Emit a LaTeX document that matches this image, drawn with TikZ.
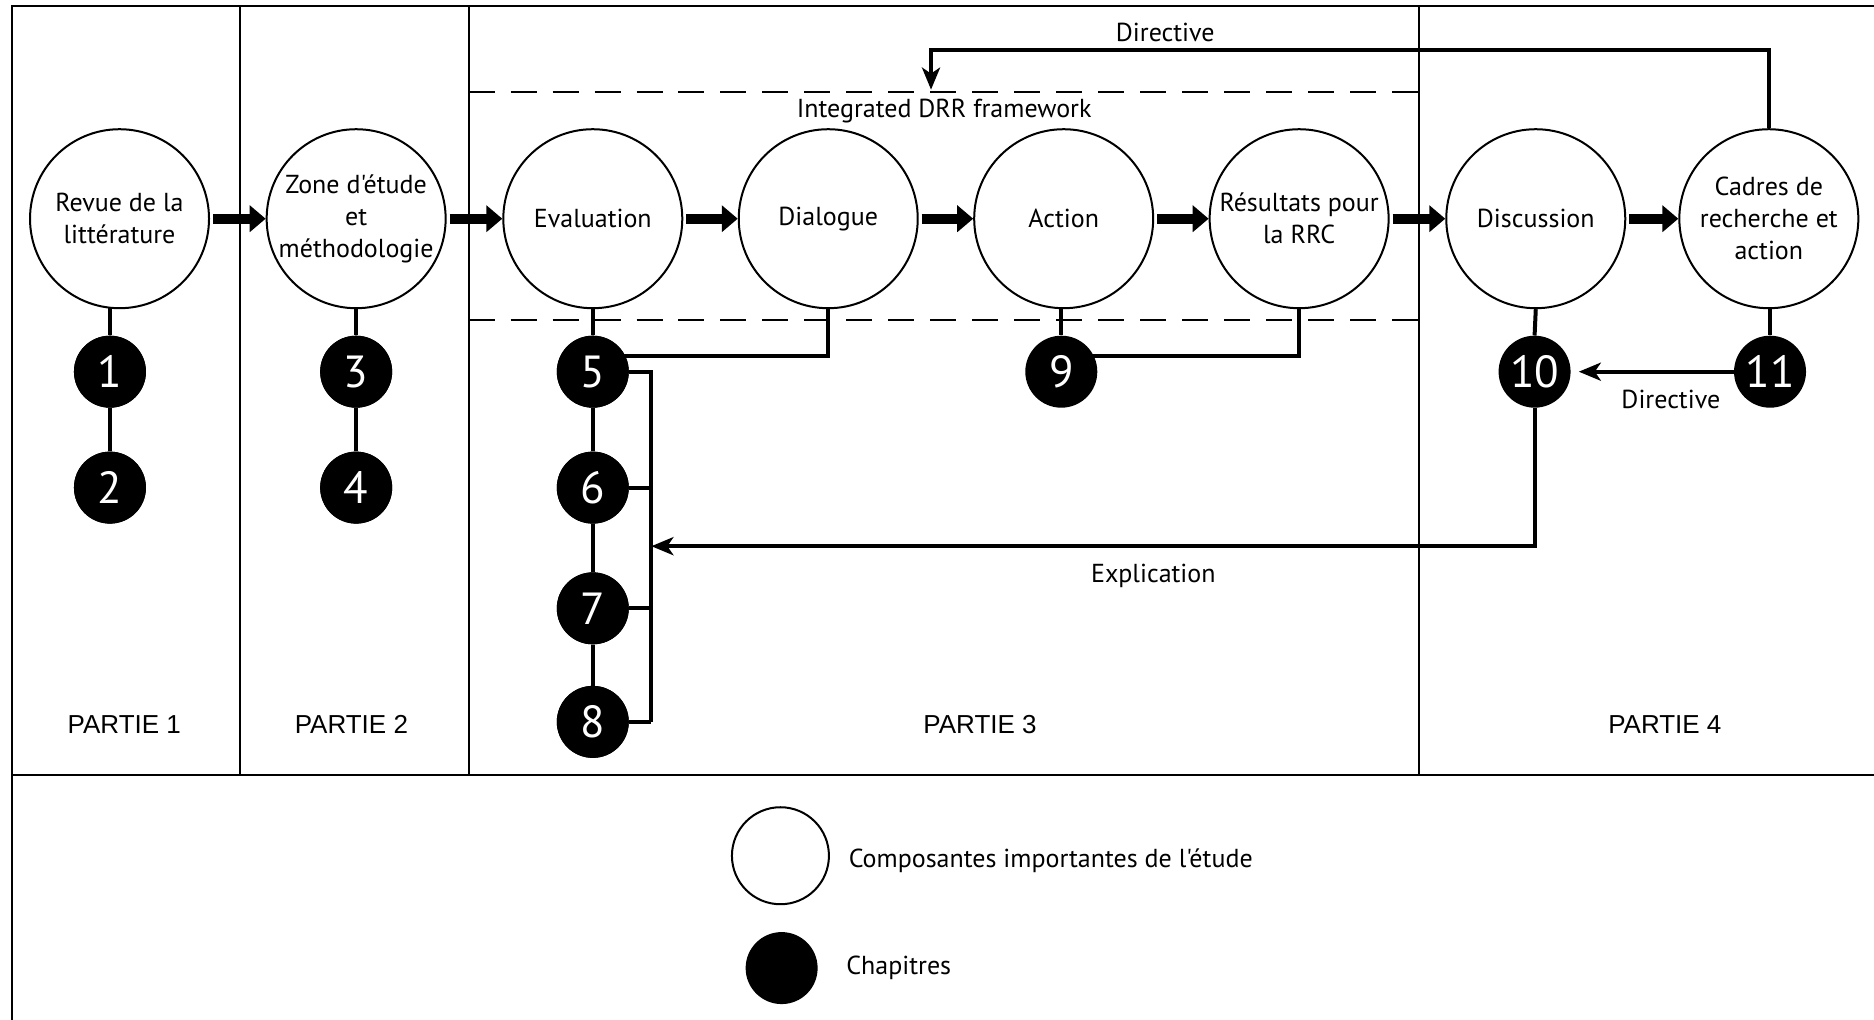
\documentclass[tikz,border=0pt]{standalone}
\usepackage{fontspec}
\newfontfamily\myfont{PT Sans}
\newfontfamily\arialfont{Liberation Sans}
\usetikzlibrary{arrows.meta,calc}
\begin{document}
\begin{tikzpicture}[x=1.1952pt,y=-1.1952pt,
  comp/.style={circle,draw,line width=2pt,minimum size=179pt,inner sep=0pt,align=center,font=\myfont\fontsize{26}{32}\selectfont,fill=white},
  chap/.style={circle,fill=black,minimum size=72pt,inner sep=0pt,text=white,font=\myfont\fontsize{45}{48}\selectfont},
  conn/.style={line width=4pt},
  fat/.style={line width=10pt,-{Triangle[length=16pt,width=26pt]}},
  thinarr/.style={line width=4pt,-{Stealth[length=22pt,width=18pt,inset=6pt]}},
  lbl/.style={font=\myfont\fontsize{26}{30}\selectfont,inner sep=0pt},
  part/.style={font=\arialfont\fontsize{26}{30}\selectfont,inner sep=0pt},
  frame/.style={line width=2pt},
  dashline/.style={line width=2pt,dash pattern=on 26pt off 16pt}]
\useasboundingbox (0,0) rectangle (1568,853);
\fill[white] (0,0) rectangle (1568,853);
% frame
\draw[frame] (10,860) -- (10,5) -- (1575,5);
\draw[frame] (10,648.5) -- (1575,648.5);
\draw[frame] (201,5) -- (201,648.5);
\draw[frame] (392,5) -- (392,648.5);
\draw[frame] (1187,5) -- (1187,648.5);
% dashed framework
\draw[dashline] (392,77) -- (1187,77);
\draw[dashline] (392,268) -- (1187,268);
\node[lbl] (drr) at (790,93) {Integrated DRR framework};
% components
\node[comp] (c1) at (100,183) {Revue de la\\littérature};
\node[comp] (c2) at (298,183) {Zone d'étude\\et\\méthodologie};
\node[comp] (c3) at (496,183) {Evaluation};
\node[comp] (c4) at (693,183) {\raisebox{-3pt}{Dialogue}};
\node[comp] (c5) at (890,183) {Action};
\node[comp] (c6) at (1087,183) {Résultats pour\\la RRC};
\node[comp] (c7) at (1285,183) {Discussion};
\node[comp] (c8) at (1480,183) {Cadres de\\recherche et\\action};
% chapters
\node[chap] (n1) at (92,311) {1};
\node[chap] (n2) at (92,408) {2};
\node[chap] (n3) at (298,311) {3};
\node[chap] (n4) at (298,408) {4};
\node[chap] (n5) at (496,311) {5};
\node[chap] (n6) at (496,408) {6};
\node[chap] (n7) at (496,509) {7};
\node[chap] (n8) at (496,604) {8};
\node[chap] (n9) at (888,311) {9};
\node[chap] (n10) at (1284,311) {10};
\node[chap] (n11) at (1481,311) {11};
% vertical links
\draw[conn] (n1 |- c1.south) ++(0,-2) -- (n1.north);
\draw[conn] (n1) -- (n2);
\draw[conn] (c2.south) -- (n3.north);
\draw[conn] (n3) -- (n4);
\draw[conn] (c3.south) -- (n5.north);
\draw[conn] (n5) -- (n6);
\draw[conn] (n6) -- (n7);
\draw[conn] (n7) -- (n8);
\draw[conn] (n9 |- c5.south) -- (n9.north);
\draw[conn] (c7.south) -- (n10.north);
\draw[conn] (n11 |- c8.south) -- (n11.north);
% redraw chapters over links
\node[chap] at (n1) {1};
\node[chap] at (n2) {2};
\node[chap] at (n3) {3};
\node[chap] at (n4) {4};
\node[chap] at (n5) {5};
\node[chap] at (n6) {6};
\node[chap] at (n7) {7};
\node[chap] at (n8) {8};
% dialogue -> 5, résultats -> 9
\coordinate (d5) at (518,298);
\draw[conn] (c4.south) -- (c4.south |- d5) -- (d5);
\coordinate (d9) at (910,298);
\draw[conn] (c6.south) -- (c6.south |- d9) -- (d9);
% bracket
\coordinate (bx) at (545,311);
\draw[conn] (n5.east) -- (bx) -- (bx |- n8);
\draw[conn] (n6.east) -- (bx |- n6);
\draw[conn] (n7.east) -- (bx |- n7);
\draw[conn] (n8.east) -- (bx |- n8);
% explication
\coordinate (ex) at (545,457);
\draw[thinarr] (n10.south) -- (n10 |- ex) -- (ex);
\node[lbl] (explab) at (965,482) {Explication};
% directive 11 -> 10
\draw[thinarr] (n11.west) -- ([xshift=8pt]n10.east);
\node[lbl] (dir2) at (1398,334) {Directive};
% directive top
\coordinate (topy) at (779,42);
\coordinate (drrtop) at (779,75);
\draw[thinarr] (c8.north) -- (c8.north |- topy) -- (topy) -- (drrtop);
\node[lbl] (dir1) at (975,27) {Directive};
% fat arrows
\draw[fat] ([xshift=3pt]c1.east) -- (c2.west);
\draw[fat] ([xshift=3pt]c2.east) -- (c3.west);
\draw[fat] ([xshift=3pt]c3.east) -- (c4.west);
\draw[fat] ([xshift=3pt]c4.east) -- (c5.west);
\draw[fat] ([xshift=3pt]c5.east) -- (c6.west);
\draw[fat] ([xshift=3pt]c6.east) -- (c7.west);
\draw[fat] ([xshift=3pt]c7.east) -- (c8.west);
% parts
\node[part] (p1) at (104,606) {PARTIE 1};
\node[part] (p2) at (294,606) {PARTIE 2};
\node[part] (p3) at (820,606) {PARTIE 3};
\node[part] (p4) at (1393,606) {PARTIE 4};
% legend
\node[circle,draw,line width=2pt,minimum size=97pt,inner sep=0pt] (lg1) at (653,716) {};
\node[circle,fill=black,minimum size=72pt,inner sep=0pt] (lg2) at (654,810) {};
\node[lbl,anchor=west] (lgt1) at (710,720) {Composantes importantes de l'étude};
\node[lbl,anchor=west] (lgt2) at (708,810) {Chapitres};
\end{tikzpicture}
\end{document}
